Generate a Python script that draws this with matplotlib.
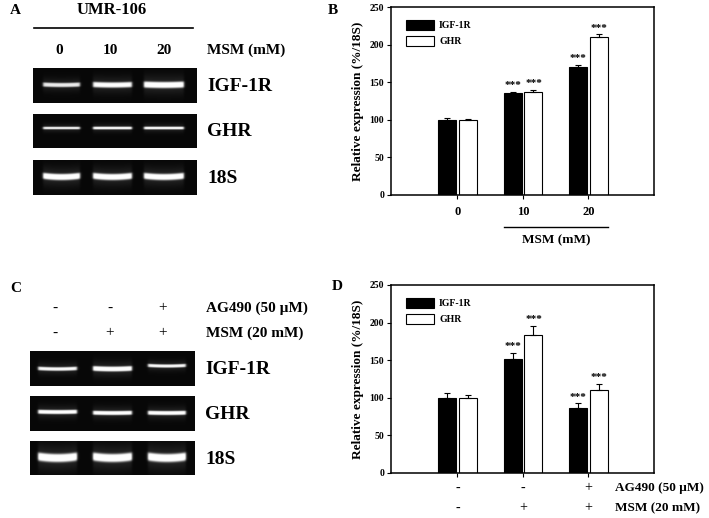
import numpy as np
import matplotlib
matplotlib.use('Agg')
import matplotlib.pyplot as plt
from matplotlib.patches import Patch

W, H = 709, 518

# bar chart values (% of 18S)
groups_b = ['0', '10', '20']
b_igf = [100, 135, 170]
b_igf_err = [2, 2, 3]
b_ghr = [100, 137, 210]
b_ghr_err = [1, 3, 3.5]
b_stars = ['', '***', '***']

d_igf = [100, 151, 86]
d_igf_err = [7, 9, 7]
d_ghr = [100, 183, 110]
d_ghr_err = [4, 13, 9]
d_stars = ['', '***', '***']
d_ag490 = ['-', '-', '+']
d_msm = ['-', '+', '+']

# gel band intensities (0-1) and half thickness (px)
gel_genes = ['IGF-1R', 'GHR', '18S']
a_bands = {'IGF-1R': [0.80, 0.88, 0.95], 'GHR': [0.85, 0.90, 0.90], '18S': [0.97, 0.95, 0.95]}
a_thick = {'IGF-1R': [2.2, 2.8, 3.2], 'GHR': [1.3, 1.4, 1.4], '18S': [3.2, 3.2, 3.2]}
c_bands = {'IGF-1R': [0.85, 0.97, 0.85], 'GHR': [0.92, 0.92, 0.92], '18S': [1.0, 1.0, 1.0]}
c_thick = {'IGF-1R': [1.9, 2.5, 1.7], 'GHR': [2.1, 2.1, 2.1], '18S': [4.2, 4.2, 4.2]}

plt.rcParams['font.family'] = 'Liberation Serif'
plt.rcParams['font.weight'] = 'bold'
plt.rcParams['axes.labelweight'] = 'bold'

fig = plt.figure(figsize=(W / 100, H / 100), dpi=100)

def px_axes(x0, y0, x1, y1):
    return fig.add_axes([x0 / W, 1 - y1 / H, (x1 - x0) / W, (y1 - y0) / H])

ov = fig.add_axes([0, 0, 1, 1])
ov.set_xlim(0, W)
ov.set_ylim(H, 0)
ov.axis('off')


def draw_gel(box, lanes, band_y, inten, thick, curve=0.0):
    x0, y0, x1, y1 = box
    ax = px_axes(x0, y0, x1, y1)
    xs = np.linspace(x0, x1, int((x1 - x0) * 4))
    ys = np.linspace(y0, y1, int((y1 - y0) * 4))
    X, Y = np.meshgrid(xs, ys)
    img = np.full(X.shape, 0.03)
    for (lx0, lx1), cy, a, t in zip(lanes, band_y, inten, thick):
        mid = (lx0 + lx1) / 2
        half = (lx1 - lx0) / 2
        hx = 0.5 * (np.tanh((X - lx0) / 1.2) - np.tanh((X - lx1) / 1.2))
        cyx = cy - curve * ((X - mid) / half) ** 2
        vy = np.exp(-((Y - cyx) / t) ** 4)
        glow = 0.12 * np.exp(-((Y - cyx) / (3 * t)) ** 2)
        img += a * hx * (vy + glow)
    ax.imshow(np.clip(img, 0, 1), cmap='gray', vmin=0, vmax=1,
              extent=[x0, x1, y1, y0], aspect='auto', interpolation='bilinear')
    ax.set_xlim(x0, x1)
    ax.set_ylim(y1, y0)
    ax.axis('off')


# ---- panel A ----
ov.text(10, 11, 'A', fontsize=11, ha='left', va='center')
ov.text(112, 10, 'UMR-106', fontsize=12, ha='center', va='center')
ov.plot([34, 193], [28, 28], color='black', lw=1.2)
for xx, lab in zip([59, 110, 164], groups_b):
    ov.text(xx, 50, lab, fontsize=11, ha='center', va='center')
ov.text(207, 50, 'MSM (mM)', fontsize=11, ha='left', va='center')

a_lanes = [(43, 80), (93, 132), (144, 184)]
a_boxes = {'IGF-1R': (33, 68, 197, 103), 'GHR': (33, 114, 197, 148), '18S': (33, 160, 197, 195)}
a_bandy = {'IGF-1R': [85, 85, 85], 'GHR': [128, 128, 128], '18S': [177, 177, 177]}
a_curve = {'IGF-1R': 0.5, 'GHR': 0.0, '18S': 1.2}
for g in gel_genes:
    draw_gel(a_boxes[g], a_lanes, a_bandy[g], a_bands[g], a_thick[g], a_curve[g])
    b = a_boxes[g]
    ov.text(207, (b[1] + b[3]) / 2 + 1, g, fontsize=14, ha='left', va='center')

# ---- panel C ----
ov.text(10, 288, 'C', fontsize=11, ha='left', va='center')
for xx, s1, s2 in zip([55, 110, 163], d_ag490, d_msm):
    ov.text(xx, 308, s1, fontsize=11, fontweight='normal', ha='center', va='center')
    ov.text(xx, 333, s2, fontsize=11, fontweight='normal', ha='center', va='center')
ov.text(206, 308, 'AG490 (50 µM)', fontsize=11, ha='left', va='center')
ov.text(206, 333, 'MSM (20 mM)', fontsize=11, ha='left', va='center')

c_lanes = [(38, 77), (93, 132), (148, 186)]
c_boxes = {'IGF-1R': (30, 351, 195, 386), 'GHR': (30, 396, 195, 431), '18S': (30, 441, 195, 475)}
c_bandy = {'IGF-1R': [369, 369, 366], 'GHR': [412, 413, 413], '18S': [458, 458, 458]}
c_curve = {'IGF-1R': 0.6, 'GHR': 0.3, '18S': 1.5}
for g in gel_genes:
    draw_gel(c_boxes[g], c_lanes, c_bandy[g], c_bands[g], c_thick[g], c_curve[g])
    b = c_boxes[g]
    ov.text(205, (b[1] + b[3]) / 2 + 1, g, fontsize=14, ha='left', va='center')


# ---- bar panels ----
def bar_panel(ax, igf, igf_err, ghr, ghr_err, stars):
    x = np.arange(len(igf))
    w, off = 0.275, 0.16
    zeros = np.zeros(len(igf))
    ek = dict(lw=0.8, capthick=0.8, ecolor='black')
    ax.bar(x - off, igf, w, color='black', edgecolor='black', lw=0.8,
           yerr=[zeros, igf_err], capsize=2, error_kw=ek, zorder=2)
    ax.bar(x + off, ghr, w, color='white', edgecolor='black', lw=0.8,
           yerr=[zeros, ghr_err], capsize=2, error_kw=ek, zorder=2)
    for i in range(len(igf)):
        if stars[i]:
            ax.text(x[i] - off, igf[i] + igf_err[i] + 2, stars[i], fontsize=8,
                    ha='center', va='bottom')
            ax.text(x[i] + off, ghr[i] + ghr_err[i] + 2, stars[i], fontsize=8,
                    ha='center', va='bottom')
    ax.set_xlim(-1.015, 3.0)
    ax.set_ylim(0, 250)
    ax.set_yticks([0, 50, 100, 150, 200, 250])
    ax.set_xticks(x)
    for s in ax.spines.values():
        s.set_linewidth(1.1)
    ax.tick_params(direction='out', length=3, width=0.8, labelsize=7, pad=2)
    ax.tick_params(axis='x', labelsize=9, pad=5)
    ax.set_ylabel('Relative expression (%/18S)', fontsize=9.5, labelpad=4)
    handles = [Patch(facecolor='black', edgecolor='black', lw=0.8, label='IGF-1R'),
               Patch(facecolor='white', edgecolor='black', lw=0.8, label='GHR')]
    ax.legend(handles=handles, loc='upper left', bbox_to_anchor=(0.057, 0.93),
              frameon=False, fontsize=7, handlelength=2.9, handleheight=1.16,
              labelspacing=0.6, handletextpad=0.5, borderpad=0, borderaxespad=0)


ov.text(333, 10, 'B', fontsize=11, ha='center', va='center')
axb = px_axes(391, 7, 654, 195)
bar_panel(axb, b_igf, b_igf_err, b_ghr, b_ghr_err, b_stars)
axb.set_xticklabels(groups_b)
ov.plot([504, 608], [227, 227], color='black', lw=1.0)
ov.text(556, 240, 'MSM (mM)', fontsize=9.5, ha='center', va='center')

ov.text(337, 287, 'D', fontsize=11, ha='center', va='center')
axd = px_axes(391, 285, 654, 473)
bar_panel(axd, d_igf, d_igf_err, d_ghr, d_ghr_err, d_stars)
axd.set_xticklabels([])
for i, (s1, s2) in enumerate(zip(d_ag490, d_msm)):
    axd.text(i, -0.08, s1, transform=axd.get_xaxis_transform(), fontsize=10,
             fontweight='normal', ha='center', va='center')
    axd.text(i, -0.186, s2, transform=axd.get_xaxis_transform(), fontsize=10,
             fontweight='normal', ha='center', va='center')
ov.text(615, 488, 'AG490 (50 µM)', fontsize=9.5, ha='left', va='center')
ov.text(615, 508, 'MSM (20 mM)', fontsize=9.5, ha='left', va='center')

fig.savefig('out.png', dpi=100)
